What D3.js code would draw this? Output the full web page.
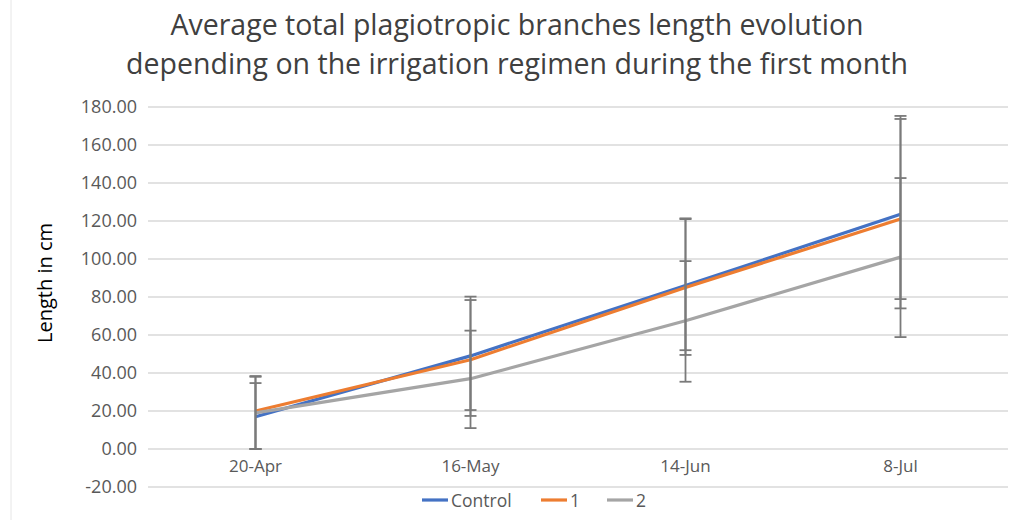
<!DOCTYPE html>
<html>
<head>
<meta charset="utf-8">
<script src="https://cdn.jsdelivr.net/npm/d3@7"></script>
<style>
  body { margin: 0; background: #fff; }
  text { font-family: "Open Sans", "Liberation Sans", sans-serif; }
</style>
</head>
<body>
<div id="chart"></div>
<script>
// Data
const dates = ["20-Apr", "16-May", "14-Jun", "8-Jul"];
const seriesNames = ["Control", "1", "2"];
const control = [17, 49, 86, 123.5];
const irr1 = [20, 47, 85, 121];
const irr2 = [19, 37, 67.5, 101];
// error amounts above / below each point
const controlErrUp = [17.7, 31.2, 35, 50.2];
const controlErrDown = [17, 31.6, 34, 49.5];
const irr1ErrUp = [18.4, 31.4, 36.4, 54.3];
const irr1ErrDown = [20, 26.5, 35.5, 42.1];
const irr2ErrUp = [19, 25.3, 31.4, 41.6];
const irr2ErrDown = [19, 26, 32.1, 42.1];
const yTicks = [-20, 0, 20, 40, 60, 80, 100, 120, 140, 160, 180];

const colors = ["#4472C4", "#ED7D31", "#A5A5A5"];
const series = [
  {name: seriesNames[0], values: control, up: controlErrUp, down: controlErrDown, color: colors[0]},
  {name: seriesNames[1], values: irr1, up: irr1ErrUp, down: irr1ErrDown, color: colors[1]},
  {name: seriesNames[2], values: irr2, up: irr2ErrUp, down: irr2ErrDown, color: colors[2]}
];

const W = 1027, H = 520;
const margin = {top: 107, right: 19, bottom: 33, left: 148},
    width = W - margin.left - margin.right,
    height = H - margin.top - margin.bottom;

const root = d3.select("#chart")
  .append("svg")
    .attr("width", W)
    .attr("height", H);

// faint frame line on the left
root.append("line")
  .attr("x1", 11).attr("x2", 11).attr("y1", 0).attr("y2", H)
  .attr("stroke", "#e6e6e6");

// Title
root.append("text")
  .attr("x", 517).attr("y", 35)
  .attr("text-anchor", "middle")
  .style("font-size", "28.5px").style("fill", "#404040")
  .text("Average total plagiotropic branches length evolution");
root.append("text")
  .attr("x", 517).attr("y", 74)
  .attr("text-anchor", "middle")
  .style("font-size", "28.5px").style("fill", "#404040")
  .text("depending on the irrigation regimen during the first month");

const svg = root.append("g")
  .attr("transform", `translate(${margin.left},${margin.top})`);

const x = d3.scaleBand()
  .domain(dates)
  .range([0, width]);

const y = d3.scaleLinear()
  .domain([-20, 180])
  .range([height, 0]);

// Gridlines
svg.append("g")
  .selectAll("line")
  .data(yTicks)
  .join("line")
    .attr("x1", 0).attr("x2", width)
    .attr("y1", d => y(d)).attr("y2", d => y(d))
    .attr("stroke", "#d9d9d9")
    .attr("stroke-width", 1.3);

// Y axis labels
svg.append("g")
  .call(d3.axisLeft(y).tickValues(yTicks).tickFormat(d => d.toFixed(2)).tickSize(0).tickPadding(11))
  .call(g => g.select(".domain").remove())
  .selectAll("text")
    .style("font-size", "18px")
    .style("fill", "#595959")
    .style("font-family", "'Open Sans', sans-serif");

// X axis labels (between 0 and -20)
svg.append("g")
  .attr("transform", `translate(0,${y(0)})`)
  .call(d3.axisBottom(x).tickSize(0).tickPadding(11))
  .call(g => g.select(".domain").remove())
  .selectAll("text")
    .style("font-size", "17px")
    .style("fill", "#595959")
    .style("font-family", "'Open Sans', sans-serif");

// Y axis title
root.append("text")
  .attr("transform", "translate(52,283) rotate(-90)")
  .attr("text-anchor", "middle")
  .style("font-size", "20px")
  .style("fill", "#000")
  .text("Length in cm");

const cx = d => x(d) + x.bandwidth() / 2;

const line = d3.line()
  .x((d, i) => cx(dates[i]))
  .y(d => y(d));

// Lines
svg.append("g")
  .selectAll("path")
  .data(series)
  .join("path")
    .attr("d", s => line(s.values))
    .attr("fill", "none")
    .attr("stroke", s => s.color)
    .attr("stroke-width", 3.2)
    .attr("stroke-linejoin", "round");

// Error bars
const errs = [];
series.forEach(s => s.values.forEach((v, i) => {
  errs.push({date: dates[i], hi: v + s.up[i], lo: v - s.down[i]});
}));
const eb = svg.append("g")
  .selectAll("g")
  .data(errs)
  .join("g")
    .attr("stroke", "#7a7a7a")
    .attr("stroke-width", 1.8);
eb.append("line")
  .attr("x1", d => cx(d.date)).attr("x2", d => cx(d.date))
  .attr("y1", d => y(d.hi)).attr("y2", d => y(d.lo));
eb.append("line")
  .attr("x1", d => cx(d.date) - 6).attr("x2", d => cx(d.date) + 6)
  .attr("y1", d => y(d.hi)).attr("y2", d => y(d.hi));
eb.append("line")
  .attr("x1", d => cx(d.date) - 6).attr("x2", d => cx(d.date) + 6)
  .attr("y1", d => y(d.lo)).attr("y2", d => y(d.lo));

// Legend
const legendX = [422, 541, 607];
const legend = root.append("g")
  .selectAll("g")
  .data(series)
  .join("g")
    .attr("transform", (d, i) => `translate(${legendX[i]},500)`);
legend.append("line")
  .attr("x1", 0).attr("x2", 26)
  .attr("stroke", d => d.color)
  .attr("stroke-width", 3.2);
legend.append("text")
  .attr("x", 29).attr("y", 6.5)
  .style("font-size", "17.5px")
  .style("fill", "#595959")
  .text(d => d.name);
</script>
</body>
</html>
